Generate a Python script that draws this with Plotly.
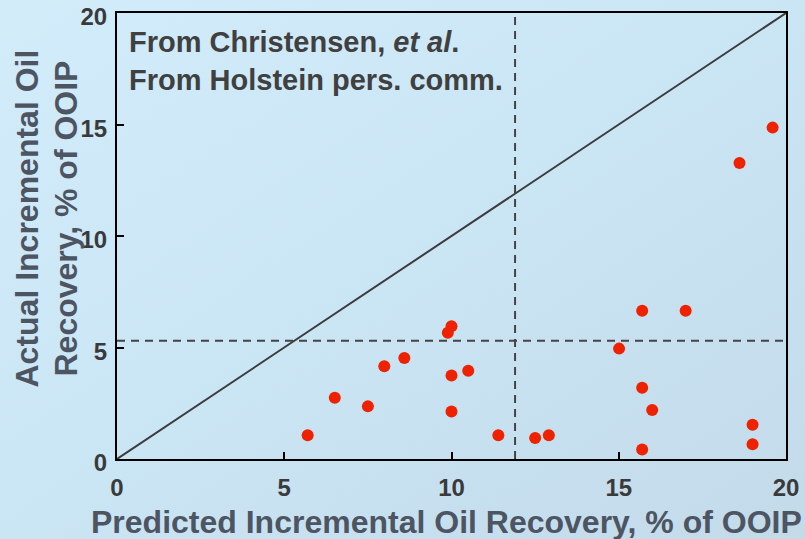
import base64
import plotly.graph_objects as go

# ---- data ----
pred_x = [5.70, 6.51, 7.50, 7.99, 8.59, 9.89, 10.0, 10.0, 10.50, 10.0, 11.40, 12.50, 12.91,
          15.01, 15.70, 17.0, 15.70, 16.0, 15.70, 19.0, 19.0, 18.61, 19.60]
actual_y = [1.06, 2.75, 2.36, 4.16, 4.53, 5.66, 5.95, 3.74, 3.96, 2.13, 1.06, 0.94, 1.06,
            4.95, 6.65, 6.65, 3.20, 2.20, 0.43, 1.54, 0.66, 13.27, 14.86]
diag_x = [0, 20]
diag_y = [0, 20]
cut_x = 11.9
cut_y = 5.3
tick_vals = [0, 5, 10, 15, 20]
tick_text = ["0", "5", "10", "15", "20"]
x_title = "Predicted Incremental Oil Recovery, % of OOIP"
y_title_lines = ["Actual Incremental Oil", "Recovery, % of OOIP"]
note_text = "From Christensen, <i>et al</i>.<br>From Holstein pers. comm."

W, H = 805, 539
ML, MR, MT, MB = 117, 19, 13, 80
PW, PH = W - ML - MR, H - MT - MB
FONT = "Liberation Sans, Arial, sans-serif"
TITLE_COLOR = "#4d5563"

svg = (f'<svg xmlns="http://www.w3.org/2000/svg" width="{W}" height="{H}" preserveAspectRatio="none">'
       '<defs><linearGradient id="g" x1="0" y1="0" x2="1" y2="1">'
       '<stop offset="0" stop-color="#d2ecfa"/><stop offset="0.5" stop-color="#cae5f4"/>'
       '<stop offset="1" stop-color="#c3dae9"/></linearGradient></defs>'
       f'<rect width="{W}" height="{H}" fill="url(#g)"/></svg>')
bg_src = "data:image/svg+xml;base64," + base64.b64encode(svg.encode()).decode()

fig = go.Figure()
fig.add_trace(go.Scatter(x=diag_x, y=diag_y, mode="lines",
                         line=dict(color="#3c3c3c", width=2), hoverinfo="skip", showlegend=False))
fig.add_trace(go.Scatter(x=[cut_x, cut_x], y=[0, 20], mode="lines",
                         line=dict(color="#444444", width=2, dash="8px,6px"), showlegend=False))
fig.add_trace(go.Scatter(x=[0, 20], y=[cut_y, cut_y], mode="lines",
                         line=dict(color="#444444", width=2, dash="8px,6px"), showlegend=False))
fig.add_trace(go.Scatter(x=pred_x, y=actual_y, mode="markers",
                         marker=dict(color="#ee2200", size=12, line=dict(width=0)),
                         cliponaxis=False, showlegend=False))

axis_common = dict(range=[0, 20], tickvals=tick_vals, ticktext=tick_text, automargin=False,
                   showgrid=False, zeroline=False, showline=True, linecolor="#000000",
                   linewidth=2, mirror=True, ticks="inside", ticklen=7, tickwidth=2,
                   tickcolor="#000000",
                   tickfont=dict(family=FONT, size=24, color="#3a3a3a", weight="bold"))

fig.update_xaxes(**axis_common, ticklabelstandoff=6)
fig.update_yaxes(**axis_common, ticklabelstandoff=3, ticklabelshift=4)

# x-axis title
fig.add_annotation(xref="paper", yref="paper", x=0.5, y=-(522 - 459) / PH,
                   xanchor="center", yanchor="middle", xshift=-5, showarrow=False,
                   text=x_title,
                   font=dict(family=FONT, size=32, color=TITLE_COLOR, weight="bold"))

# y-axis title, two rotated lines placed close together like the reference
for line_text, cx in zip(y_title_lines, [26, 65]):
    fig.add_annotation(xref="paper", yref="paper", x=0, y=(459 - 218.5) / PH,
                       xanchor="center", yanchor="middle", xshift=cx - ML, textangle=-90,
                       showarrow=False, text=line_text,
                       font=dict(family=FONT, size=32, color=TITLE_COLOR, weight="bold"))

fig.add_annotation(xref="paper", yref="paper", x=0, y=1, xanchor="left", yanchor="top",
                   xshift=10, yshift=-11, align="left", showarrow=False, text=note_text,
                   font=dict(family=FONT, size=29, color="#404040", weight="bold"))

fig.update_layout(
    width=W, height=H,
    margin=dict(l=ML, r=MR, t=MT, b=MB),
    paper_bgcolor="#cbe5f4", plot_bgcolor="rgba(0,0,0,0)",
    images=[dict(source=bg_src, xref="paper", yref="paper",
                 x=-ML / PW, y=1 + MT / PH, sizex=W / PW, sizey=H / PH,
                 xanchor="left", yanchor="top", sizing="stretch", layer="below")],
)

fig.write_html("out.html", config={"displayModeBar": False},
               post_script="document.body.style.margin='0px';"
                           "document.body.style.background='#cbe5f4';"
                           "document.body.style.overflow='hidden';")
